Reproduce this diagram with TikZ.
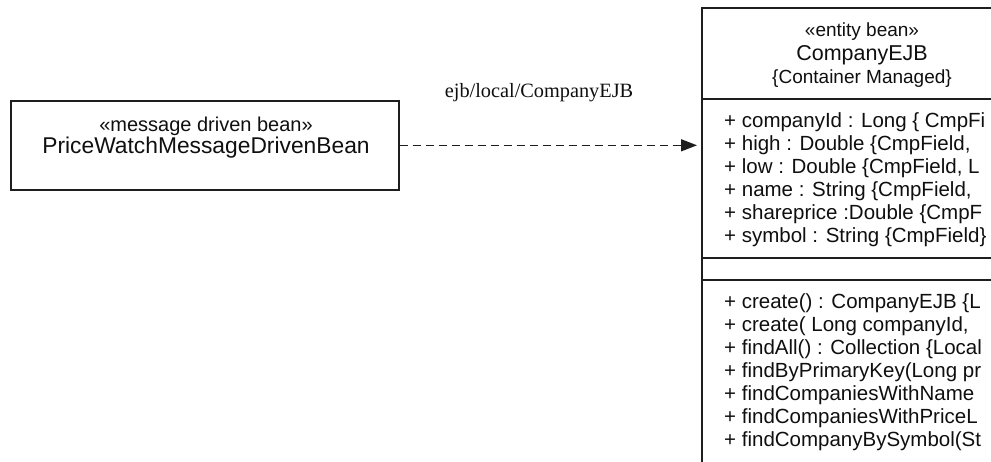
\documentclass[tikz,border=0pt]{standalone}
\usepackage{fontspec}
\setmainfont{Liberation Sans}
\newfontfamily\seriffont{Liberation Serif}
\usetikzlibrary{arrows.meta, positioning}
\definecolor{umlline}{RGB}{30,30,30}
\definecolor{umltext}{RGB}{15,15,15}

\begin{document}
\begin{tikzpicture}[x=1pt, y=-1pt,
  every node/.style={inner sep=0pt, text=umltext},
  umlbox/.style={draw=umlline, line width=1.6pt},
  stereo/.style={font=\fontsize{20}{24}\selectfont},
  clsname/.style={font=\fontsize{22.8}{26}\selectfont},
  hdr/.style={font=\fontsize{19}{22}\selectfont},
  member/.style={anchor=west, font=\fontsize{20.5}{23}\selectfont},
  lbl/.style={font=\seriffont\fontsize{20.3}{24}\selectfont},
  dep/.style={-{Triangle[length=16pt,width=12pt]}, umlline, line width=1.6pt,
              dash pattern=on 8pt off 5pt, shorten >=4pt}]
\useasboundingbox (0,0) rectangle (991,461);
\clip (0,0) rectangle (991,461);

% message driven bean
\node[umlbox, anchor=north west, minimum width=388pt, minimum height=89pt] (mdb) at (10,100) {};
\node[stereo] (mdbst) at (206,126) {«message driven bean»};
\node[clsname] (mdbname) at (206,148) {PriceWatchMessageDrivenBean};

% entity bean (runs past the right edge)
\node[umlbox, anchor=north west, minimum width=330pt, minimum height=470pt] (ejb) at (701,7) {};
\draw[umlbox] (ejb.west |- 0,99) -- (ejb.east |- 0,99);
\draw[umlbox] (ejb.west |- 0,258) -- (ejb.east |- 0,258);
\draw[umlbox] (ejb.west |- 0,280) -- (ejb.east |- 0,280);
\node[hdr] (ejbst) at (862,32) {«entity bean»};
\node[hdr, font=\fontsize{21.5}{24}\selectfont] (ejbname) at (862,55) {CompanyEJB};
\node[hdr] (ejbtag) at (862,79) {\{Container Managed\}};

\foreach \txt [count=\i] in {{+ companyId : Long \{ CmpFi},
    {+ high : Double \{CmpField,}, {+ low : Double \{CmpField, L},
    {+ name : String \{CmpField,}, {+ shareprice :Double \{CmpF},
    {+ symbol : String \{CmpField\}}}
  \node[member] (attr\i) at (724,99+23*\i) {\txt};

\foreach \txt [count=\i] in {{+ create() : CompanyEJB \{L},
    {+ create( Long companyId,}, {+ findAll() : Collection \{Local},
    {+ findByPrimaryKey(Long pr}, {+ findCompaniesWithName},
    {+ findCompaniesWithPriceL}, {+ findCompanyBySymbol(St}}
  \node[member] (op\i) at (724,280+23*\i) {\txt};

% dependency
\draw[dep] (mdb.east) -- (mdb.east -| ejb.west);
\node[lbl] (jndi) at (539,93) {ejb/local/CompanyEJB};
\end{tikzpicture}
\end{document}
